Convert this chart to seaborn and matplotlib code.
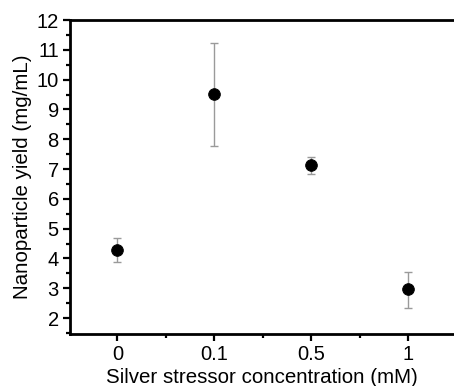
import matplotlib
matplotlib.use("Agg")
import matplotlib.pyplot as plt
from matplotlib.ticker import MultipleLocator
import seaborn as sns
import pandas as pd

# valeurs
concentrations = ["0", "0.1", "0.5", "1"]
yields = [4.28, 9.52, 7.13, 2.96]
err_low = [3.87, 7.78, 6.84, 2.35]
err_high = [4.69, 11.24, 7.39, 3.55]

df = pd.DataFrame({"conc": concentrations, "yield": yields})

sns.set_style("ticks", {"axes.edgecolor": "black", "xtick.color": "black",
                        "ytick.color": "black", "text.color": "black",
                        "axes.labelcolor": "black"})
plt.rcParams['font.family'] = ['Liberation Sans', 'DejaVu Sans']

fig = plt.figure(figsize=(4.54, 3.86), dpi=100)
ax = fig.add_axes([0.154, 0.135, 0.846, 0.813])

# barres d'erreur (grises, fines)
pos = list(range(len(concentrations)))
yerr = [[y - lo for y, lo in zip(yields, err_low)],
        [hi - y for y, hi in zip(yields, err_high)]]
ax.errorbar(pos, yields, yerr=yerr, fmt="none", ecolor="#9a9a9a",
            elinewidth=1.0, capsize=2.8, capthick=1.0, zorder=2)

sns.scatterplot(data=df, x="conc", y="yield", ax=ax, color="black",
                s=70, edgecolor="black", zorder=3, legend=False)

ax.set_xlim(-0.49, 3.47)
ax.set_ylim(1.47, 12)
ax.set_xticks(pos)
ax.set_xticklabels(concentrations)
ax.set_xticks([0.5, 1.5, 2.5], minor=True)
ax.yaxis.set_minor_locator(MultipleLocator(0.5))
ax.set_yticks(range(2, 13))

ax.tick_params(axis="both", which="major", direction="out", length=5, width=1.6,
               labelsize=14.5, pad=3, colors="black")
ax.tick_params(axis="both", which="minor", direction="out", length=3, width=1.6,
               colors="black")

for side in ["left", "bottom", "top"]:
    ax.spines[side].set_linewidth(2)
    ax.spines[side].set_color("black")
ax.spines["right"].set_visible(False)

ax.set_xlabel("Silver stressor concentration (mM)", fontsize=14.8, labelpad=3)
ax.set_ylabel("Nanoparticle yield (mg/mL)", fontsize=14.8, labelpad=3)

fig.savefig("out.png", dpi=100)
